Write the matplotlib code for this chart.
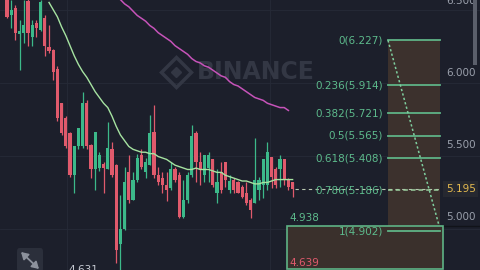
import matplotlib.pyplot as plt
from matplotlib.patches import Rectangle, FancyBboxPatch

# candle data (prices)
opens = [6.53, 6.40, 6.45, 6.27, 6.28, 6.50, 6.25, 6.35, 6.30, 6.38,
         6.18, 6.16, 6.03, 5.79, 5.69, 5.58, 5.29, 5.49, 5.49, 5.79,
         5.50, 5.33, 5.34, 5.37, 5.33, 5.47, 5.36, 4.81, 4.92, 5.31,
         5.12, 5.26, 5.43, 5.31, 5.36, 5.59, 5.29, 5.27, 5.22, 5.20,
         5.33, 5.29, 5.00, 5.12, 5.29, 5.58, 5.38, 5.29, 5.34, 5.40,
         5.17, 5.31, 5.38, 5.19, 5.26, 5.24, 5.21, 5.17, 5.12, 5.10,
         5.19, 5.22, 5.22, 5.42, 5.33, 5.33, 5.40, 5.26, 5.24]
highs = [6.55, 6.51, 6.47, 6.37, 6.51, 6.54, 6.37, 6.37, 6.51, 6.40,
         6.33, 6.17, 6.05, 5.79, 5.70, 5.59, 5.49, 5.62, 5.87, 5.81,
         5.51, 5.59, 5.45, 5.38, 5.66, 5.52, 5.37, 5.15, 5.35, 5.43,
         5.31, 5.44, 5.47, 5.41, 5.71, 5.78, 5.35, 5.31, 5.31, 5.38,
         5.35, 5.31, 5.26, 5.31, 5.64, 5.60, 5.45, 5.43, 5.45, 5.40,
         5.33, 5.38, 5.38, 5.29, 5.27, 5.25, 5.22, 5.24, 5.13, 5.55,
         5.28, 5.40, 5.52, 5.42, 5.35, 5.43, 5.40, 5.27, 5.24]
lows = [6.38, 6.31, 6.23, 6.02, 6.21, 6.19, 6.19, 6.25, 6.29, 6.12,
        6.14, 5.95, 5.67, 5.57, 5.48, 5.28, 5.17, 5.47, 5.48, 5.47,
        5.27, 5.19, 5.32, 5.17, 5.33, 5.28, 4.68, 4.631, 4.91, 5.10,
        5.12, 5.24, 5.33, 5.27, 5.36, 5.27, 5.22, 5.17, 5.11, 5.19,
        5.24, 4.99, 4.99, 5.10, 5.28, 5.24, 5.22, 5.24, 5.24, 5.21,
        5.10, 5.17, 5.21, 5.17, 5.17, 5.17, 5.13, 5.08, 4.99, 5.10,
        5.12, 5.13, 5.19, 5.20, 5.20, 5.21, 5.22, 5.19, 5.14]
closes = [6.39, 6.44, 6.28, 6.29, 6.33, 6.28, 6.33, 6.31, 6.49, 6.19,
          6.15, 6.01, 5.69, 5.58, 5.49, 5.29, 5.49, 5.62, 5.79, 5.49,
          5.33, 5.59, 5.43, 5.34, 5.48, 5.29, 4.77, 4.92, 5.24, 5.12,
          5.26, 5.41, 5.35, 5.38, 5.58, 5.29, 5.24, 5.22, 5.19, 5.33,
          5.26, 5.00, 5.12, 5.29, 5.56, 5.38, 5.33, 5.43, 5.43, 5.22,
          5.24, 5.19, 5.26, 5.25, 5.19, 5.17, 5.14, 5.10, 5.05, 5.26,
          5.26, 5.40, 5.45, 5.28, 5.22, 5.40, 5.26, 5.21, 5.195]

# short moving average, from candle 10 on
ma_fast_start = 10
ma_fast = [6.49, 6.44, 6.39, 6.32, 6.26, 6.19, 6.12, 6.06, 6.01, 5.97,
           5.92, 5.87, 5.83, 5.79, 5.76, 5.70, 5.63, 5.57, 5.53, 5.49,
           5.47, 5.46, 5.45, 5.45, 5.44, 5.44, 5.42, 5.41, 5.40, 5.38,
           5.36, 5.35, 5.34, 5.33, 5.33, 5.34, 5.33, 5.33, 5.33, 5.32,
           5.31, 5.31, 5.29, 5.28, 5.27, 5.26, 5.25, 5.25, 5.24, 5.23,
           5.23, 5.24, 5.24, 5.25, 5.26, 5.26, 5.26, 5.26, 5.26]
# long moving average, from candle 25 on
ma_slow_start = 25
ma_slow = [6.55, 6.53, 6.51, 6.48, 6.46, 6.43, 6.40, 6.38, 6.36, 6.33,
           6.31, 6.28, 6.26, 6.24, 6.22, 6.19, 6.17, 6.15, 6.13, 6.10,
           6.08, 6.07, 6.05, 6.04, 6.02, 6.00, 5.98, 5.97, 5.94, 5.92,
           5.91, 5.89, 5.87, 5.85, 5.83, 5.82, 5.81, 5.79, 5.78, 5.77,
           5.76, 5.76, 5.74]

fib_ratios = ["0", "0.236", "0.382", "0.5", "0.618", "0.786", "1"]
fib_prices = [6.227, 5.914, 5.721, 5.565, 5.408, 5.186, 4.902]
axis_prices = [6.5, 6.0, 5.5, 5.0]
last_price = 5.195
range_hi = 4.938
range_lo = 4.639
low_label = "4.631"

BG = "#1c1f2b"
UP = "#3cb98a"
DOWN = "#e05a6c"
FIB = "#5fb386"
FIBTXT = "#5dba8c"
GRAY = "#9a9fab"


# screen pixel -> data coords (decorations only)
def px_x(x):
    return (x - 7) / 4.2


def px_y(y):
    return 6.507 - y / 144.0


fig = plt.figure(figsize=(4.8, 2.7), dpi=100, facecolor=BG)
ax = fig.add_axes([0, 0, 1, 1], facecolor=BG)
ax.set_xlim(px_x(0), px_x(480))
ax.set_ylim(px_y(270), px_y(0))
ax.axis("off")

# grid
for gy in [10, 83, 156, 229]:
    ax.axhline(px_y(gy), color="#262a37", lw=0.6, zorder=0)
for gx in [67, 270]:
    ax.axvline(px_x(gx), color="#262a37", lw=0.6, zorder=0)

# watermark
ax.text(px_x(197), px_y(72), "BINANCE", color="#333744", fontsize=17,
        fontweight="bold", va="center", ha="left", zorder=0.5)
ax.plot(px_x(176), px_y(72), marker="D", ms=15, mfc="none", mec="#333744",
        mew=2.5, zorder=0.5)
ax.plot(px_x(176), px_y(72), marker="D", ms=5, color="#333744", zorder=0.5)

# candles
for i in range(len(opens)):
    o, h, l, c = opens[i], highs[i], lows[i], closes[i]
    col = UP if c >= o else DOWN
    ax.vlines(i, l, h, color=col, lw=0.9, zorder=2)
    ax.bar(i, max(abs(c - o), 0.006), bottom=min(o, c), width=0.72,
           color=col, zorder=2)

# moving averages
ax.plot(range(ma_fast_start, ma_fast_start + len(ma_fast)), ma_fast,
        color="#a6e3a1", lw=1.0, zorder=3)
ax.plot(range(ma_slow_start, ma_slow_start + len(ma_slow)), ma_slow,
        color="#c653b9", lw=1.1, zorder=3)

# fibonacci retracement
fx0, fx1 = px_x(388), px_x(440)
ax.add_patch(Rectangle((fx0, fib_prices[-1]), fx1 - fx0,
                       fib_prices[0] - fib_prices[-1],
                       facecolor="#3c312d", edgecolor="none", zorder=1))

# range box at the bottom
bx0, bx1 = px_x(287), px_x(443)
ax.add_patch(Rectangle((bx0, range_lo), bx1 - bx0, range_hi - range_lo,
                       facecolor="#3a302c", edgecolor=FIB, lw=1.2, zorder=1.5))
ax.text(px_x(289), range_hi + 0.02, f"{range_hi:.3f}", color=FIBTXT,
        fontsize=7.5, ha="left", va="bottom", zorder=5)
ax.text(px_x(289), range_lo + 0.01, f"{range_lo:.3f}", color=DOWN,
        fontsize=7.5, ha="left", va="bottom", zorder=5)
ax.plot([bx1, px_x(480)], [range_hi, range_hi], color="#111319", lw=1, zorder=1)

for r, p in zip(fib_ratios, fib_prices):
    if r == "0.786":
        ax.plot([fx0, fx1], [p, p], color="#9ccf9f", lw=1.1, ls=(0, (3, 2)),
                zorder=4)
    else:
        ax.plot([fx0, fx1], [p, p], color=FIB, lw=1.3, zorder=4)
    ax.text(px_x(383), p, f"{r}({p:.3f})", color=FIBTXT, fontsize=7.5,
            ha="right", va="center", zorder=5)

# trend line between the two anchors
ax.plot([fx0, fx1 - 0.3], [fib_prices[0], range_hi + 0.01], color="#7fcf9f",
        lw=1.1, ls=(0, (1.5, 1.5)), zorder=4)

# current price line and label
ax.plot([len(closes) - 0.5, fx1], [last_price, last_price], color="#b8c8b0",
        lw=0.8, ls=(0, (3, 3)), zorder=3)
ax.text(px_x(446), last_price, f"{last_price:.3f}", color="#e3b94f",
        fontsize=7.5, ha="left", va="center", zorder=6,
        bbox=dict(boxstyle="square,pad=0.25", facecolor="#262830",
                  edgecolor="none"))

# price axis
for p in axis_prices:
    ax.text(px_x(446), p, f"{p:.3f}", color=GRAY, fontsize=7.5,
            ha="left", va="center", zorder=5)

# scrollbar
ax.add_patch(Rectangle((px_x(473), px_y(65)), px_x(477) - px_x(473),
                       px_y(0) - px_y(65), facecolor="#5b5f6b",
                       edgecolor="none", zorder=5))

# lowest price marker text (cut at bottom)
ax.text(px_x(68), px_y(265), low_label, color="#c8ccd4", fontsize=7.5,
        ha="left", va="top", zorder=5)

# expand icon bottom-left
ax.add_patch(FancyBboxPatch((px_x(17), px_y(272)), px_x(43) - px_x(17),
                            px_y(248) - px_y(272),
                            boxstyle="round,pad=0,rounding_size=0.6",
                            facecolor="#2b2f3b", edgecolor="none", zorder=5,
                            mutation_aspect=0.04))
ax.annotate("", xy=(px_x(39), px_y(269)), xytext=(px_x(21), px_y(252)),
            arrowprops=dict(arrowstyle="<|-|>,head_length=0.5,head_width=0.3",
                            color="#8c919c", lw=1.3, mutation_scale=8,
                            shrinkA=0, shrinkB=0),
            zorder=6)

fig.savefig("out.png", dpi=100, facecolor=BG)
